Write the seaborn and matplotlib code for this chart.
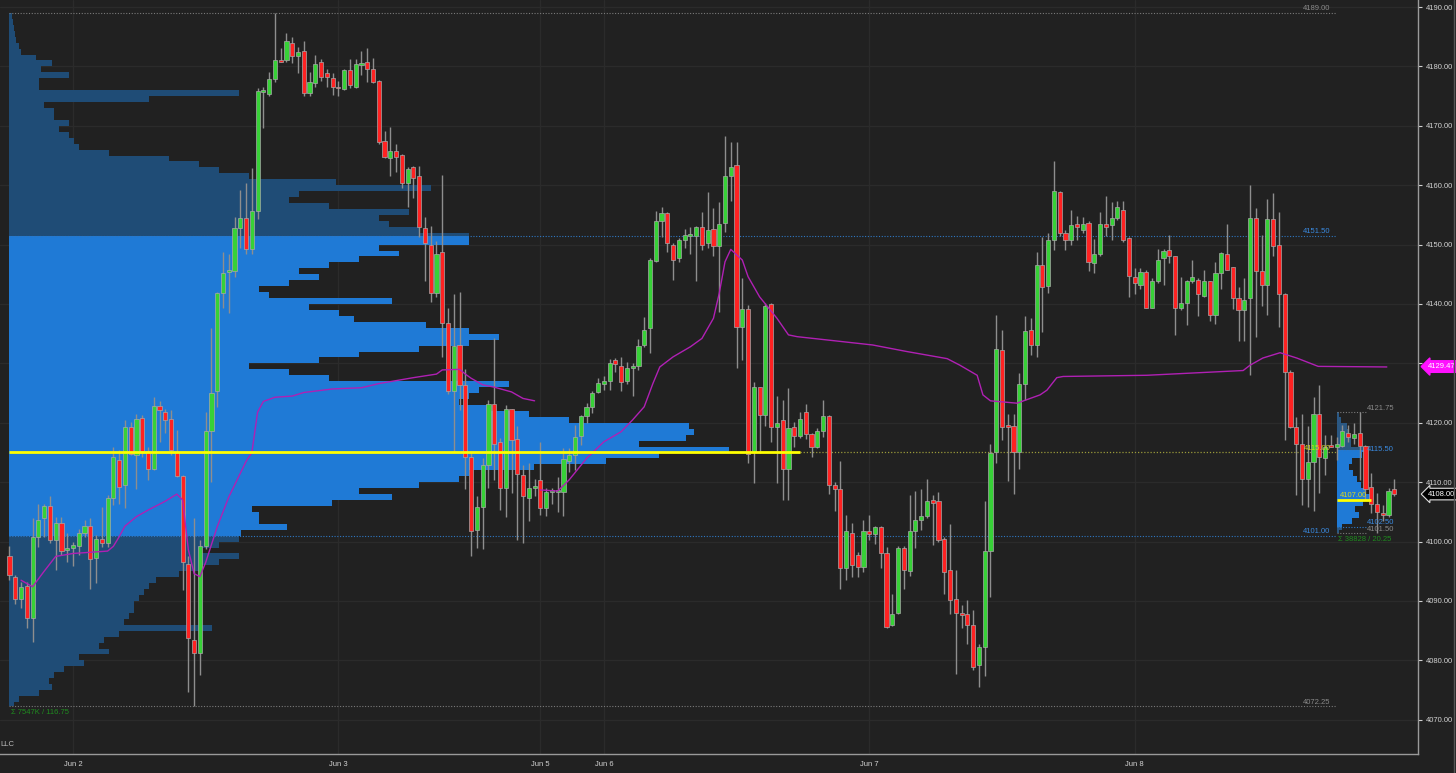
import numpy as np
import matplotlib
matplotlib.use('Agg')
import matplotlib.pyplot as plt
import matplotlib.transforms as mtransforms
from matplotlib.ticker import FormatStrFormatter
from matplotlib.lines import Line2D
import seaborn as sns

# ---- 30 min bars, Jun 1 evening -> Jun 8 ----
opens = [4097.5, 4094.1, 4090.3, 4092.6, 4087.2, 4100.7, 4104.0, 4106.0, 4100.3, 4103.2,
         4098.6, 4099.0, 4099.3, 4101.5, 4102.7, 4097.2, 4100.5, 4099.8, 4107.3, 4113.8,
         4109.5, 4119.3, 4114.6, 4120.8, 4115.3, 4112.3, 4122.9, 4121.9, 4120.6, 4115.1,
         4111.0, 4096.3, 4083.4, 4081.2, 4099.3, 4118.6, 4125.3, 4141.9, 4145.4, 4145.5,
         4152.8, 4154.4, 4149.3, 4155.6, 4175.7, 4175.3, 4177.9, 4181.1, 4181.0, 4183.9,
         4181.8, 4182.6, 4175.6, 4177.2, 4180.7, 4178.9, 4178.0, 4176.6, 4176.2, 4179.4,
         4176.6, 4180.2, 4180.8, 4179.6, 4177.6, 4167.5, 4164.5, 4165.7, 4165.1, 4160.3,
         4163.0, 4161.5, 4152.8, 4150.0, 4141.8, 4148.7, 4136.8, 4125.4, 4133.1, 4126.3,
         4114.3, 4102.0, 4105.8, 4112.9, 4123.2, 4116.8, 4109.1, 4122.3, 4117.3, 4111.2,
         4107.3, 4109.0, 4110.3, 4105.6, 4108.3, 4108.3, 4108.4, 4113.5, 4114.6, 4117.8,
         4121.1, 4122.6, 4125.2, 4126.5, 4127.1, 4130.5, 4129.6, 4127.1, 4129.3, 4129.5,
         4133.1, 4135.9, 4147.3, 4154.0, 4155.3, 4149.9, 4147.7, 4150.8, 4151.5, 4151.4,
         4152.9, 4150.2, 4152.7, 4149.8, 4153.7, 4161.5, 4163.4, 4136.1, 4139.1, 4115.0,
         4126.0, 4121.3, 4140.0, 4119.3, 4120.4, 4112.3, 4119.3, 4117.8, 4121.9, 4118.1,
         4116.0, 4118.6, 4121.1, 4109.6, 4108.8, 4095.5, 4101.5, 4097.7, 4095.8, 4101.8,
         4101.2, 4102.5, 4098.0, 4086.0, 4087.9, 4099.0, 4095.0, 4101.8, 4103.7, 4104.3,
         4107.0, 4106.8, 4100.5, 4095.3, 4090.3, 4087.9, 4087.8, 4086.0, 4079.2, 4082.2,
         4098.5, 4115.1, 4132.3, 4119.5, 4119.5, 4115.1, 4126.6, 4135.7, 4133.1, 4146.6,
         4143.0, 4150.8, 4158.8, 4151.9, 4150.8, 4153.4, 4152.5, 4153.6, 4146.9, 4148.4,
         4153.5, 4153.3, 4154.5, 4155.9, 4151.1, 4144.5, 4143.2, 4145.4, 4139.4, 4143.9,
         4147.7, 4149.1, 4148.0, 4139.3, 4140.2, 4143.8, 4144.1, 4141.3, 4143.8, 4138.2,
         4145.2, 4148.4, 4146.2, 4141.0, 4139.0, 4141.0, 4154.4, 4145.6, 4143.2, 4154.3,
         4149.9, 4141.7, 4128.6, 4119.3, 4116.5, 4110.6, 4113.4, 4121.5, 4114.0, 4116.3,
         4116.0, 4116.1, 4118.3, 4117.4, 4118.3, 4116.1, 4109.2, 4106.4, 4104.8, 4104.5,
         4108.8]
highs = [4099.2, 4094.3, 4093.2, 4093.2, 4103.9, 4106.4, 4106.4, 4107.7, 4104.2, 4104.2,
         4101.4, 4100.0, 4102.2, 4103.6, 4103.9, 4101.1, 4105.9, 4107.8, 4115.9, 4115.4,
         4120.5, 4120.2, 4121.5, 4121.3, 4116.0, 4124.3, 4123.6, 4122.4, 4122.2, 4118.8,
         4111.2, 4097.5, 4104.0, 4100.3, 4121.9, 4136.0, 4142.0, 4148.8, 4148.4, 4154.6,
         4159.2, 4160.4, 4162.9, 4176.4, 4176.5, 4179.0, 4189.0, 4183.1, 4185.6, 4185.0,
         4183.2, 4184.3, 4179.0, 4182.0, 4181.3, 4179.5, 4178.9, 4177.6, 4179.6, 4181.3,
         4181.3, 4182.6, 4183.1, 4181.4, 4177.7, 4169.2, 4169.8, 4167.0, 4165.2, 4163.0,
         4163.2, 4163.2, 4154.6, 4153.2, 4150.6, 4161.8, 4139.3, 4141.6, 4142.1, 4129.0,
         4115.1, 4107.6, 4114.0, 4123.9, 4134.2, 4117.4, 4123.0, 4122.4, 4119.5, 4112.9,
         4113.2, 4110.6, 4116.8, 4109.0, 4109.0, 4110.9, 4115.7, 4115.7, 4119.6, 4121.3,
         4123.4, 4125.4, 4127.5, 4127.8, 4130.7, 4130.9, 4131.1, 4130.3, 4130.0, 4134.1,
         4137.8, 4147.7, 4155.7, 4156.4, 4155.5, 4150.2, 4151.1, 4152.7, 4152.9, 4153.1,
         4155.5, 4158.9, 4156.1, 4157.2, 4168.2, 4167.2, 4167.2, 4144.3, 4139.8, 4126.9,
         4126.1, 4140.1, 4140.1, 4124.5, 4123.9, 4125.8, 4120.2, 4121.9, 4123.2, 4118.3,
         4119.1, 4123.9, 4121.3, 4110.1, 4113.5, 4104.5, 4103.2, 4098.3, 4103.7, 4104.5,
         4102.6, 4102.6, 4099.1, 4091.2, 4099.3, 4099.3, 4107.8, 4108.6, 4108.8, 4110.5,
         4107.8, 4108.4, 4100.7, 4102.9, 4095.3, 4089.3, 4090.1, 4088.4, 4082.8, 4106.9,
         4116.5, 4138.1, 4135.6, 4121.5, 4121.5, 4128.3, 4137.9, 4137.6, 4148.8, 4151.2,
         4151.9, 4164.0, 4159.1, 4152.5, 4155.9, 4154.8, 4154.7, 4153.9, 4150.9, 4155.5,
         4158.2, 4157.1, 4157.4, 4157.4, 4151.2, 4146.0, 4146.0, 4145.7, 4144.3, 4149.2,
         4149.2, 4151.6, 4148.1, 4144.6, 4144.0, 4147.4, 4144.3, 4145.8, 4143.9, 4147.1,
         4148.8, 4153.5, 4146.3, 4142.9, 4144.3, 4160.0, 4156.1, 4151.6, 4157.6, 4158.7,
         4155.5, 4141.8, 4128.9, 4121.0, 4121.5, 4119.4, 4124.3, 4126.4, 4118.0, 4118.0,
         4117.6, 4119.6, 4119.7, 4119.9, 4121.75, 4116.3, 4111.6, 4108.1, 4106.2, 4109.1,
         4110.5]
lows = [4093.5, 4089.5, 4088.8, 4085.5, 4083.1, 4099.1, 4100.8, 4099.7, 4095.2, 4097.7,
        4096.6, 4095.9, 4097.7, 4100.8, 4092.1, 4093.0, 4099.1, 4099.1, 4106.2, 4106.4,
        4105.6, 4114.6, 4108.8, 4114.3, 4110.3, 4112.0, 4116.8, 4118.2, 4114.6, 4110.8,
        4091.8, 4074.7, 4072.25, 4077.5, 4098.7, 4110.0, 4122.7, 4139.3, 4138.5, 4144.5,
        4149.4, 4148.4, 4148.4, 4154.3, 4169.6, 4175.0, 4177.4, 4180.7, 4180.7, 4180.6,
        4178.9, 4175.0, 4175.0, 4176.6, 4177.6, 4176.5, 4175.2, 4175.1, 4176.0, 4176.4,
        4176.4, 4178.6, 4177.4, 4177.2, 4167.0, 4164.6, 4161.5, 4162.2, 4159.6, 4156.4,
        4157.9, 4151.3, 4143.9, 4140.3, 4141.2, 4131.1, 4124.9, 4115.2, 4122.1, 4108.9,
        4097.5, 4098.9, 4098.7, 4109.0, 4110.4, 4105.3, 4104.2, 4108.1, 4100.3, 4099.8,
        4103.4, 4107.6, 4104.5, 4104.3, 4106.4, 4104.9, 4104.3, 4111.8, 4112.1, 4116.3,
        4119.9, 4121.6, 4125.0, 4125.5, 4125.6, 4128.6, 4125.4, 4126.6, 4124.5, 4128.9,
        4132.8, 4131.7, 4147.1, 4151.3, 4148.8, 4144.1, 4147.0, 4149.4, 4148.4, 4143.9,
        4149.1, 4149.4, 4148.0, 4138.7, 4152.2, 4157.4, 4129.3, 4130.5, 4113.3, 4109.9,
        4114.9, 4119.5, 4116.8, 4109.9, 4107.0, 4107.0, 4116.0, 4117.4, 4117.2, 4114.3,
        4115.7, 4117.6, 4108.0, 4105.2, 4092.0, 4093.6, 4094.1, 4094.0, 4094.9, 4100.3,
        4099.6, 4095.5, 4085.4, 4085.8, 4087.8, 4092.0, 4094.2, 4099.0, 4101.9, 4103.9,
        4099.4, 4100.0, 4091.2, 4087.8, 4077.7, 4085.4, 4082.8, 4078.4, 4075.6, 4077.4,
        4090.7, 4113.3, 4117.1, 4110.2, 4108.0, 4112.3, 4123.9, 4131.4, 4131.1, 4135.3,
        4141.8, 4149.1, 4151.5, 4149.1, 4149.9, 4150.8, 4151.9, 4145.6, 4145.2, 4148.1,
        4151.5, 4150.8, 4154.1, 4150.5, 4141.1, 4141.7, 4142.5, 4139.3, 4139.3, 4143.6,
        4143.2, 4146.9, 4134.8, 4139.0, 4136.5, 4143.6, 4137.9, 4141.2, 4137.2, 4136.7,
        4142.6, 4145.7, 4139.1, 4133.8, 4133.7, 4128.0, 4134.5, 4139.7, 4138.2, 4148.0,
        4136.2, 4117.1, 4119.1, 4107.9, 4106.2, 4105.9, 4105.2, 4108.1, 4111.2, 4115.9,
        4113.7, 4116.0, 4116.8, 4116.5, 4110.4, 4107.0, 4104.8, 4101.5, 4103.4, 4104.2,
        4107.6]
closes = [4094.3, 4090.3, 4092.4, 4087.2, 4100.7, 4103.7, 4106.0, 4100.3, 4103.2, 4098.5,
          4098.8, 4099.4, 4101.5, 4102.7, 4097.0, 4100.5, 4099.7, 4107.3, 4114.3, 4109.2,
          4119.3, 4114.7, 4120.6, 4115.3, 4112.3, 4122.9, 4122.1, 4120.4, 4115.5, 4111.0,
          4096.5, 4083.7, 4081.2, 4099.3, 4118.6, 4125.1, 4141.9, 4145.2, 4145.6, 4152.8,
          4154.4, 4149.3, 4155.6, 4175.9, 4175.9, 4177.9, 4181.0, 4180.8, 4184.2, 4181.8,
          4182.4, 4175.6, 4177.4, 4180.4, 4178.3, 4178.3, 4176.5, 4176.3, 4179.4, 4176.8,
          4180.4, 4180.6, 4179.6, 4177.4, 4167.2, 4164.8, 4165.8, 4164.8, 4160.4, 4162.8,
          4161.2, 4152.9, 4150.2, 4141.8, 4148.4, 4136.8, 4125.4, 4132.9, 4126.3, 4114.3,
          4101.7, 4105.9, 4112.9, 4123.2, 4116.5, 4109.0, 4122.3, 4117.1, 4111.4, 4107.6,
          4109.0, 4109.4, 4105.6, 4108.4, 4108.7, 4108.7, 4113.9, 4114.6, 4117.6, 4121.1,
          4122.6, 4125.1, 4126.7, 4127.1, 4130.1, 4129.9, 4126.9, 4129.3, 4129.6, 4132.9,
          4135.7, 4147.4, 4154.0, 4155.3, 4150.2, 4147.4, 4150.8, 4151.7, 4151.8, 4152.9,
          4149.9, 4152.5, 4149.7, 4153.5, 4161.5, 4163.0, 4136.1, 4139.1, 4114.7, 4126.0,
          4121.3, 4139.7, 4119.3, 4120.0, 4112.3, 4119.1, 4117.7, 4120.6, 4118.1, 4115.9,
          4118.6, 4121.1, 4109.6, 4108.8, 4095.5, 4101.8, 4096.1, 4095.8, 4101.8, 4101.3,
          4102.5, 4098.0, 4085.7, 4087.8, 4099.0, 4095.3, 4101.8, 4103.7, 4104.3, 4106.8,
          4106.5, 4100.3, 4094.9, 4090.1, 4087.9, 4087.6, 4086.0, 4078.9, 4082.2, 4098.5,
          4114.9, 4132.4, 4119.3, 4119.3, 4115.1, 4126.6, 4135.4, 4133.1, 4146.6, 4142.9,
          4150.8, 4159.1, 4151.9, 4150.8, 4153.3, 4152.9, 4153.5, 4147.0, 4148.5, 4153.5,
          4153.0, 4154.5, 4156.3, 4150.8, 4144.7, 4143.5, 4145.4, 4139.4, 4143.9, 4147.4,
          4149.0, 4148.0, 4139.3, 4140.2, 4143.8, 4144.5, 4141.7, 4143.8, 4138.2, 4145.2,
          4148.6, 4145.8, 4141.0, 4139.0, 4140.7, 4154.4, 4145.6, 4143.2, 4154.3, 4149.7,
          4141.7, 4128.6, 4119.3, 4116.5, 4110.6, 4113.4, 4121.5, 4114.3, 4116.0, 4116.0,
          4116.4, 4118.6, 4117.6, 4118.1, 4116.1, 4108.8, 4106.4, 4104.9, 4104.5, 4108.6,
          4108.0]

date_labels = ['Jun 2', 'Jun 3', 'Jun 5', 'Jun 6', 'Jun 7', 'Jun 8']
date_bars = [11, 57, 92, 103, 149, 195]

# session vwap lines (bar index, price)
vwap1_bars = [2, 4, 6, 8, 11, 14, 17, 18, 19, 20, 22, 24, 27, 29, 30, 31, 32, 33, 34, 36,
              38, 41, 42, 43, 44, 46, 49, 51, 56, 61, 64, 70, 74, 75, 78, 79, 80, 82, 84,
              87, 89, 91]
vwap1_vals = [4093.5, 4092.4, 4095.0, 4097.5, 4098.0, 4098.2, 4098.4, 4099.2, 4100.8, 4102.6,
              4104.2, 4105.3, 4106.8, 4108.0, 4107.0, 4098.6, 4094.6, 4094.1, 4096.5, 4102.5,
              4107.5, 4113.5, 4115.0, 4121.8, 4123.6, 4124.3, 4124.5, 4125.1, 4125.7, 4125.9,
              4126.6, 4127.6, 4128.2, 4128.9, 4129.0, 4128.2, 4127.5, 4126.4, 4126.0, 4125.2,
              4124.1, 4123.7]
vwap2_bars = [92, 95, 97, 100, 103, 106, 108, 110, 111.5, 112.7, 115, 118, 120, 122, 123,
              124, 125, 127, 128, 130, 133, 135, 136.5, 144, 149.6, 155.5, 162.5, 164.7,
              167.7, 168.7, 170, 174.6, 178.6, 179.8, 181.5, 182.6, 197.1, 213.8, 215,
              217.2, 220.2, 223.1, 226.8, 238.7]
vwap2_vals = [4108.7, 4108.5, 4110.4, 4114.0, 4116.8, 4118.5, 4120.5, 4122.7, 4126.6, 4129.4,
              4131.1, 4132.8, 4134.2, 4137.6, 4141.8, 4147.1, 4149.2, 4147.4, 4144.6, 4141.2,
              4137.6, 4134.8, 4134.5, 4133.7, 4133.1, 4132.0, 4130.8, 4129.7, 4128.0, 4124.7,
              4123.7, 4123.3, 4124.7, 4125.5, 4127.6, 4127.8, 4128.0, 4128.8, 4129.7, 4130.9,
              4131.8, 4130.9, 4129.5, 4129.4]

# composite volume profile, 1 pt rows from 4072 upward (relative volume)
profile_vol = [5, 10, 30, 43, 40, 45, 55, 75, 70, 100,
               90, 95, 110, 203, 115, 120, 125, 125, 130, 135,
               140, 147, 170, 190, 210, 230, 190, 210, 230, 232,
               278, 250, 250, 243, 323, 383, 350, 410, 450, 460,
               525, 597, 650, 720, 630, 677, 685, 680, 560, 520,
               480, 450, 460, 470, 500, 320, 280, 240, 310, 350,
               410, 460, 490, 460, 417, 345, 330, 300, 383, 260,
               250, 280, 310, 290, 320, 350, 390, 370, 460, 460,
               410, 380, 370, 400, 320, 280, 290, 422, 327, 240,
               210, 190, 160, 100, 70, 65, 60, 50, 60, 45,
               45, 35, 140, 230, 30, 30, 60, 32, 43, 27,
               12, 10, 7, 6, 5, 4, 3]
profile_first_row = 4072
profile_low, profile_high = 4072.25, 4189.00
va_low, va_high = 4101.00, 4151.50
poc = 4115.00
profile_text = 'Σ 7547K / 116.75'

# developing Jun 8 profile, 1 pt rows from 4101 upward
day_vol = [2, 5, 15, 22, 18, 26, 35, 28, 24, 20, 16, 12, 15, 25, 27, 14, 14, 12, 10, 4, 2]
day_first_row = 4101
day_low, day_high = 4101.50, 4121.75
day_va_low, day_va_high = 4102.50, 4115.50
day_poc = 4107.00
day_text = 'Σ 38828 / 20.25'

last_price = 4108.00
vwap_last = 4129.47

# ---- style ----
BG = '#212121'
GREEN = '#37d137'
RED = '#ff2222'
WICK = '#8e8e8e'
VA_BLUE = '#1f7ad6'
DARK_BLUE = '#1f4c76'
GRID = '#2b2b2b'
TXT = '#d2d2d2'
BAR_PX = 5.77          # pixels per bar in this layout
PROF_X0 = -0.1         # profile starts at first bar
DAY_X0 = 230.1
PROF_END = 229.9
DAY_END = 235.1

sns.set_theme(style='dark', rc={'axes.facecolor': BG, 'figure.facecolor': BG,
                                'axes.edgecolor': '#9a9a9a', 'grid.color': GRID})
plt.rcParams['font.family'] = ['Liberation Sans', 'DejaVu Sans']

fig = plt.figure(figsize=(14.56, 7.73), dpi=100)
ax = fig.add_axes([0, 19 / 773, 1418 / 1456, 754 / 773])
ax.set_xlim(-1.646, 244.1)
ax.set_ylim(4064.24, 4191.18)

# grid
ax.set_yticks(np.arange(4070, 4191, 10))
ax.set_xticks(date_bars, date_labels)
ax.grid(True, color=GRID, lw=0.9, zorder=0)
ax.set_axisbelow(True)

# composite profile
rows = profile_first_row + np.arange(len(profile_vol))
w = np.array(profile_vol) / BAR_PX
bot = np.maximum(rows, profile_low)
top = np.minimum(rows + 1, profile_high)
ax.barh(bot, w, height=top - bot, left=PROF_X0, align='edge', color=DARK_BLUE, lw=0, zorder=1)
in_va = (rows + 1 > va_low) & (rows < va_high)
vb = np.maximum(rows, va_low)
vt = np.minimum(rows + 1, va_high)
ax.barh(vb[in_va], w[in_va], height=(vt - vb)[in_va], left=PROF_X0, align='edge',
        color=VA_BLUE, lw=0, zorder=1.2)

# developing profile
drows = day_first_row + np.arange(len(day_vol))
dw = np.array(day_vol) / BAR_PX
dbot = np.maximum(drows, day_low)
dtop = np.minimum(drows + 1, day_high)
ax.barh(dbot, dw, height=dtop - dbot, left=DAY_X0, align='edge', color='#2b5883', lw=0, zorder=1)
d_in = (drows + 1 > day_va_low) & (drows < day_va_high)
dvb = np.maximum(drows, day_va_low)
dvt = np.minimum(drows + 1, day_va_high)
ax.barh(dvb[d_in], dw[d_in], height=(dvt - dvb)[d_in], left=DAY_X0, align='edge',
        color=VA_BLUE, lw=0, zorder=1.2)

# level lines
dot = (0, (1, 1.5))
ax.hlines([profile_high, profile_low], PROF_X0, PROF_END, colors='#7a7a7a', linestyles=dot, lw=0.8, zorder=2)
ax.hlines([va_high, va_low], PROF_X0, PROF_END, colors='#2f78c4', linestyles=dot, lw=0.8, zorder=2)
ax.hlines(poc, 137, PROF_END, colors='#9a9a3a', linestyles=dot, lw=0.9, zorder=2)
ax.hlines([day_high, day_low], DAY_X0, DAY_END, colors='#7a7a7a', linestyles=dot, lw=0.8, zorder=2)
ax.hlines([day_va_high, day_va_low], DAY_X0, DAY_END, colors='#2f78c4', linestyles=dot, lw=0.8, zorder=2)

lab = dict(fontsize=5.5, va='bottom', zorder=7)
lx = 228.9
ax.text(lx, profile_high + 0.15, f'{profile_high:.2f}', ha='right', color='#8a8a8a', **lab)
ax.text(lx, profile_low + 0.15, f'{profile_low:.2f}', ha='right', color='#8a8a8a', **lab)
ax.text(lx, va_high + 0.15, f'{va_high:.2f}', ha='right', color='#3a8ae0', **lab)
ax.text(lx, va_low + 0.15, f'{va_low:.2f}', ha='right', color='#3a8ae0', **lab)
ax.text(lx, poc + 0.15, f'{poc:.2f}', ha='right', color='#d8d820', **lab)
ax.text(PROF_X0 + 0.3, profile_low - 0.4, profile_text, fontsize=5.5, va='top', color='#1f8c1f')

dx = 235.3
ax.text(dx, day_high + 0.15, f'{day_high:.2f}', ha='left', color='#8a8a8a', **lab)
ax.text(dx, day_va_high - 0.6, f'{day_va_high:.2f}', ha='left', color='#3a8ae0', **lab)
ax.text(dx, day_va_low + 0.1, f'{day_va_low:.2f}', ha='left', color='#3a8ae0', **lab)
ax.text(dx, day_low + 0.0, f'{day_low:.2f}', ha='left', color='#8a8a8a', **lab)
ax.text(DAY_X0 + 0.5, day_poc + 0.15, f'{day_poc:.2f}', ha='left', color='#d8d820', **lab)
ax.text(DAY_X0 + 0.2, day_low - 0.6, day_text, fontsize=5.5, va='top', color='#1f8c1f')

# candles
o = np.array(opens)
h = np.array(highs)
l = np.array(lows)
c = np.array(closes)
x = np.arange(len(o))
up = c >= o
ax.vlines(x, l, h, colors=WICK, lw=1, zorder=3)
body = np.maximum(np.abs(c - o), 0.3)
ax.bar(x, body, bottom=np.minimum(o, c), width=0.72, color=np.where(up, GREEN, RED),
       edgecolor='#a8a8a8', linewidth=0.5, zorder=4)

# vwap
sns.lineplot(x=vwap1_bars, y=vwap1_vals, ax=ax, color='#b020b4', lw=1, zorder=5)
sns.lineplot(x=vwap2_bars, y=vwap2_vals, ax=ax, color='#b020b4', lw=1, zorder=5)

# poc lines on top
ax.hlines(poc, PROF_X0, 137, colors='#ffff00', lw=2, zorder=6)
ax.hlines(day_poc, DAY_X0, 235.9, colors='#ffff00', lw=2, zorder=6)

# axes styling
ax.yaxis.tick_right()
ax.yaxis.set_major_formatter(FormatStrFormatter('%.2f'))
ax.tick_params(axis='y', colors=TXT, labelsize=5.5, length=3, width=0.8, pad=3)
ax.tick_params(axis='x', colors=TXT, labelsize=5.5, length=3, width=0.8, pad=2)
for lbl in ax.get_yticklabels() + ax.get_xticklabels():
    lbl.set_color(TXT)
for s in ['top', 'left']:
    ax.spines[s].set_visible(False)
for s in ['right', 'bottom']:
    ax.spines[s].set_color('#9a9a9a')
    ax.spines[s].set_linewidth(1)
ax.set_xlabel('')
ax.set_ylabel('')

# price markers
trans = mtransforms.blended_transform_factory(ax.transAxes, ax.transData)
ax.text(1.0068, vwap_last, f'{vwap_last:.2f}', transform=trans, ha='left', va='center',
        fontsize=5.5, color='white', clip_on=False, zorder=10,
        bbox=dict(boxstyle='larrow,pad=0.3', fc='#ff10ff', ec='#ff10ff'))
ax.text(1.0068, last_price, f'{last_price:.2f}', transform=trans, ha='left', va='center',
        fontsize=5.5, color='white', clip_on=False, zorder=10,
        bbox=dict(boxstyle='larrow,pad=0.3', fc='#000000', ec='#e0e0e0', lw=0.8))

fig.text(0.0, (773 - 745) / 773, 'LLC', fontsize=5.5, color='#bbbbbb', ha='left', va='center')
fig.add_artist(Line2D([1454 / 1456] * 2, [0, 1], color='#555555', lw=1))

fig.savefig('out.png', dpi=100, facecolor=BG)
